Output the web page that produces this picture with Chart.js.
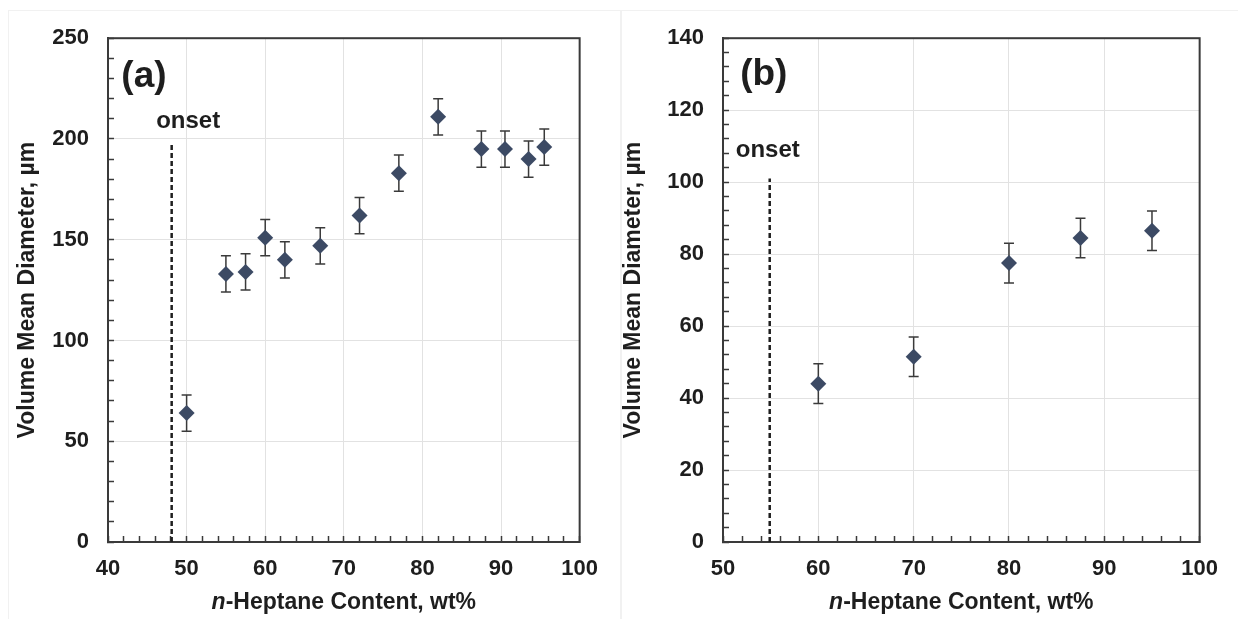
<!DOCTYPE html>
<html><head><meta charset="utf-8">
<script src="https://cdn.jsdelivr.net/npm/chart.js@4.4.1/dist/chart.umd.min.js"></script>
<style>
html,body{margin:0;padding:0;background:#fff;}
#wrap{position:relative;width:1238px;height:619px;overflow:hidden;background:#fff;}
canvas{position:absolute;top:0;}
.pane{position:absolute;border:1px solid #f1f1f1;box-sizing:border-box;}
</style></head><body>
<div id="wrap">
<div class="pane" style="left:8px;top:10px;width:613px;height:612px;"></div>
<div class="pane" style="left:621px;top:10px;width:620px;height:612px;"></div>
<canvas id="ca" width="618" height="619" style="left:0"></canvas>
<canvas id="cb" width="620" height="619" style="left:618px"></canvas>
</div>
<script>
// ---- Panel (a) data ----
const heptaneA  = [50, 55, 57.5, 60, 62.5, 67, 72, 77, 82, 87.5, 90.5, 93.5, 95.5];
const diameterA = [64, 133, 134, 151, 140, 147, 162, 183, 211, 195, 195, 190, 196];
const errorA    = [9, 9, 9, 9, 9, 9, 9, 9, 9, 9, 9, 9, 9];
const onsetXA   = [48.1, 48.1];
const onsetYA   = [0, 197];
const xTicksA   = [40, 50, 60, 70, 80, 90, 100];
const yTicksA   = [0, 50, 100, 150, 200, 250];

// ---- Panel (b) data ----
const heptaneB  = [60, 70, 80, 87.5, 95];
const diameterB = [44, 51.5, 77.5, 84.5, 86.5];
const errorB    = [5.5, 5.5, 5.5, 5.5, 5.5];
const onsetXB   = [54.9, 54.9];
const onsetYB   = [0, 101];
const xTicksB   = [50, 60, 70, 80, 90, 100];
const yTicksB   = [0, 20, 40, 60, 80, 100, 120, 140];

const FONT = "'Liberation Sans', Arial, sans-serif";
const TXT = '#1e1e1e';
const MARK = '#3c4a64';

const errorBars = {
  id: 'errorBars',
  beforeDatasetsDraw(chart) {
    const {ctx, scales: {x, y}} = chart;
    chart.data.datasets.forEach(ds => {
      if (!ds.errors) return;
      ctx.save();
      ctx.strokeStyle = '#3a3a3a';
      ctx.lineWidth = 1.5;
      ds.data.forEach((p, i) => {
        const px = x.getPixelForValue(p.x);
        const t = y.getPixelForValue(p.y + ds.errors[i]);
        const b = y.getPixelForValue(p.y - ds.errors[i]);
        ctx.beginPath();
        ctx.moveTo(px, t); ctx.lineTo(px, b);
        ctx.moveTo(px - 5, t); ctx.lineTo(px + 5, t);
        ctx.moveTo(px - 5, b); ctx.lineTo(px + 5, b);
        ctx.stroke();
      });
      ctx.restore();
    });
  }
};

const frame = {
  id: 'frame',
  beforeDatasetsDraw(chart) {
    const {ctx, chartArea: a} = chart;
    ctx.save();
    ctx.strokeStyle = '#3a3a3a';
    ctx.lineWidth = 2;
    ctx.strokeRect(a.left, a.top, a.right - a.left, a.bottom - a.top);
    ctx.restore();
  }
};

const notes = {
  id: 'notes',
  afterDatasetsDraw(chart, args, opts) {
    const {ctx, scales: {x, y}} = chart;
    (opts.items || []).forEach(n => {
      ctx.save();
      ctx.font = n.font;
      ctx.fillStyle = TXT;
      ctx.textAlign = n.align || 'center';
      ctx.textBaseline = 'middle';
      ctx.fillText(n.text, x.getPixelForValue(n.x), y.getPixelForValue(n.y));
      ctx.restore();
    });
  }
};

const xTitle = {
  id: 'xTitle',
  afterDraw(chart, args, opts) {
    const {ctx, chartArea: a} = chart;
    ctx.save();
    const fi = 'italic bold 23px ' + FONT, fn = 'bold 23px ' + FONT;
    ctx.font = fi; const w1 = ctx.measureText(opts.italic).width;
    ctx.font = fn; const w2 = ctx.measureText(opts.rest).width;
    const cx = (a.left + a.right) / 2;
    const sx = cx - (w1 + w2) / 2;
    ctx.fillStyle = TXT;
    ctx.textBaseline = 'middle';
    ctx.textAlign = 'left';
    ctx.font = fi; ctx.fillText(opts.italic, sx, chart.height - opts.offset);
    ctx.font = fn; ctx.fillText(opts.rest, sx + w1, chart.height - opts.offset);
    ctx.restore();
  }
};

function makeChart(id, cfg) {
  const pts = cfg.xs.map((v, i) => ({x: v, y: cfg.ys[i]}));
  const onset = cfg.ox.map((v, i) => ({x: v, y: cfg.oy[i]}));
  const isMajor = (v, list) => list.some(t => Math.abs(t - v) < 1e-6);
  return new Chart(document.getElementById(id), {
    type: 'scatter',
    data: {
      datasets: [
        {data: pts, errors: cfg.err, pointStyle: 'rectRot', pointRadius: 8, pointHoverRadius: 8,
         backgroundColor: MARK, borderColor: MARK, borderWidth: 0, showLine: false},
        {data: onset, showLine: true, pointRadius: 0, borderColor: '#1e1e1e', borderWidth: 2.5,
         borderDash: [5, 3], fill: false}
      ]
    },
    options: {
      responsive: false, animation: false,
      layout: {padding: {top: 34, right: cfg.padRight, bottom: 0, left: 0}},
      plugins: {
        legend: {display: false}, tooltip: {enabled: false},
        notes: {items: cfg.notes},
        xTitle: {italic: 'n', rest: '-Heptane Content, wt%', offset: 16}
      },
      scales: {
        x: {
          type: 'linear', min: cfg.xMin, max: cfg.xMax,
          afterFit: s => { s.height = 77; },
          border: {display: true, color: '#3a3a3a', width: 2},
          grid: {
            color: c => (c.tick && isMajor(c.tick.value, cfg.xTicks) ? '#e2e2e2' : 'rgba(0,0,0,0)'),
            tickColor: '#3a3a3a', tickLength: -6, tickWidth: 1.5, drawTicks: true
          },
          ticks: {
            stepSize: 2, autoSkip: false, maxRotation: 0, padding: 20, color: TXT,
            font: {family: FONT, size: 22, weight: 'bold'},
            callback: v => (isMajor(v, cfg.xTicks) ? String(v) : '')
          }
        },
        y: {
          type: 'linear', min: 0, max: cfg.yMax,
          afterFit: s => { s.width = cfg.yWidth; },
          border: {display: true, color: '#3a3a3a', width: 2},
          grid: {
            color: c => (c.tick && isMajor(c.tick.value, cfg.yTicks) ? '#e2e2e2' : 'rgba(0,0,0,0)'),
            tickColor: '#3a3a3a', tickLength: -6, tickWidth: 1.5, drawTicks: true
          },
          ticks: {
            stepSize: cfg.yStep, autoSkip: false, padding: 25, color: TXT,
            font: {family: FONT, size: 22, weight: 'bold'},
            callback: v => (isMajor(v, cfg.yTicks) ? String(v) : '')
          },
          title: {
            display: true, text: 'Volume Mean Diameter, µm', color: TXT,
            font: {family: FONT, size: 23, weight: 'bold'},
            padding: {top: cfg.titlePad, bottom: 0}
          }
        }
      }
    },
    plugins: [frame, errorBars, notes, xTitle]
  });
}

makeChart('ca', {
  xs: heptaneA, ys: diameterA, err: errorA, ox: onsetXA, oy: onsetYA,
  xTicks: xTicksA, yTicks: yTicksA, xMin: 40, xMax: 100, yMax: 250, yStep: 10,
  yWidth: 108, padRight: 33, titlePad: 14,
  notes: [
    {text: '(a)', x: 41.7, y: 231, font: 'bold 37px ' + FONT, align: 'left'},
    {text: 'onset', x: 50.2, y: 208.7, font: 'bold 24px ' + FONT, align: 'center'}
  ]
});

makeChart('cb', {
  xs: heptaneB, ys: diameterB, err: errorB, ox: onsetXB, oy: onsetYB,
  xTicks: xTicksB, yTicks: yTicksB, xMin: 50, xMax: 100, yMax: 140, yStep: 4,
  yWidth: 105, padRight: 31, titlePad: 2,
  notes: [
    {text: '(b)', x: 51.8, y: 129.8, font: 'bold 37px ' + FONT, align: 'left'},
    {text: 'onset', x: 54.7, y: 108.8, font: 'bold 24px ' + FONT, align: 'center'}
  ]
});
</script>
</body></html>
